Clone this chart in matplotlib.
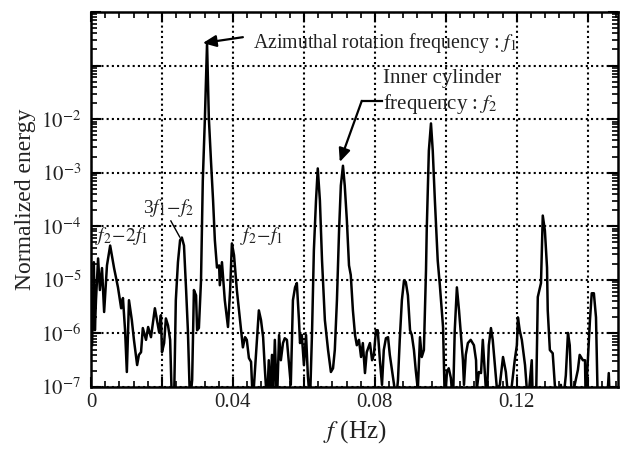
import matplotlib
matplotlib.use("Agg")
import matplotlib.pyplot as plt
import numpy as np
from matplotlib.ticker import MultipleLocator, LogLocator, NullFormatter

plt.rcParams['font.family'] = ['Liberation Serif', 'DejaVu Serif']
plt.rcParams['mathtext.fontset'] = 'stix'

# spectrum: frequency (Hz) and log10 of normalized energy
freq = [
    0.0003, 0.0006, 0.0008, 0.0011, 0.0014, 0.0020, 0.0025, 0.0031, 0.0037, 0.0045,
    0.0054, 0.0065, 0.0076, 0.0085, 0.0090, 0.0096, 0.0101, 0.0107, 0.0115, 0.0121,
    0.0130, 0.0135, 0.0141, 0.0146, 0.0155, 0.0161, 0.0169, 0.0180, 0.0186, 0.0192,
    0.0197, 0.0200, 0.0206, 0.0211, 0.0217, 0.0223, 0.0228, 0.0234, 0.0239, 0.0245,
    0.0251, 0.0256, 0.0262, 0.0268, 0.0273, 0.0279, 0.0285, 0.0290, 0.0296, 0.0299,
    0.0304, 0.0310, 0.0315, 0.0321, 0.0327, 0.0332, 0.0338, 0.0344, 0.0349, 0.0355,
    0.0361, 0.0363, 0.0369, 0.0377, 0.0386, 0.0392, 0.0397, 0.0403, 0.0411, 0.0420,
    0.0428, 0.0434, 0.0439, 0.0445, 0.0451, 0.0456, 0.0462, 0.0468, 0.0473, 0.0479,
    0.0485, 0.0490, 0.0496, 0.0501, 0.0504, 0.0510, 0.0513, 0.0518, 0.0524, 0.0530,
    0.0535, 0.0541, 0.0546, 0.0552, 0.0558, 0.0563, 0.0569, 0.0575, 0.0580, 0.0586,
    0.0589, 0.0594, 0.0600, 0.0606, 0.0611, 0.0617, 0.0623, 0.0628, 0.0634, 0.0639,
    0.0645, 0.0651, 0.0659, 0.0668, 0.0676, 0.0682, 0.0687, 0.0693, 0.0699, 0.0704,
    0.0710, 0.0715, 0.0721, 0.0727, 0.0732, 0.0738, 0.0744, 0.0749, 0.0755, 0.0761,
    0.0766, 0.0772, 0.0777, 0.0786, 0.0792, 0.0797, 0.0803, 0.0808, 0.0814, 0.0820,
    0.0825, 0.0831, 0.0837, 0.0842, 0.0848, 0.0854, 0.0859, 0.0865, 0.0870, 0.0876,
    0.0882, 0.0887, 0.0893, 0.0899, 0.0904, 0.0910, 0.0915, 0.0921, 0.0927, 0.0932,
    0.0938, 0.0944, 0.0946, 0.0952, 0.0958, 0.0963, 0.0969, 0.0977, 0.0983, 0.0992,
    0.0997, 0.1003, 0.1008, 0.1014, 0.1020, 0.1025, 0.1031, 0.1037, 0.1042, 0.1048,
    0.1051, 0.1056, 0.1062, 0.1070, 0.1079, 0.1085, 0.1087, 0.1093, 0.1099, 0.1104,
    0.1110, 0.1115, 0.1121, 0.1127, 0.1132, 0.1138, 0.1144, 0.1152, 0.1161, 0.1169,
    0.1177, 0.1186, 0.1194, 0.1200, 0.1203, 0.1208, 0.1214, 0.1223, 0.1231, 0.1237,
    0.1242, 0.1245, 0.1254, 0.1259, 0.1268, 0.1273, 0.1279, 0.1285, 0.1287, 0.1293,
    0.1301, 0.1307, 0.1315, 0.1324, 0.1330, 0.1338, 0.1344, 0.1349, 0.1355, 0.1363,
    0.1372, 0.1377, 0.1386, 0.1392, 0.1394, 0.1400, 0.1406, 0.1411, 0.1417, 0.1423,
    0.1428, 0.1442, 0.1454, 0.1459, 0.1462, 0.1468,
]
log_energy = [
    -6.22, -5.38, -4.67, -5.94, -5.38, -4.60, -5.19, -4.78, -5.60, -4.73,
    -4.36, -4.78, -5.14, -5.53, -5.34, -5.94, -6.72, -5.38, -5.75, -6.12,
    -6.59, -6.40, -6.35, -5.90, -6.12, -5.88, -6.07, -5.53, -5.75, -5.98,
    -5.66, -6.35, -6.18, -5.72, -5.85, -6.12, -7.30, -7.30, -5.38, -4.67,
    -4.26, -4.21, -4.36, -5.19, -5.94, -7.30, -6.87, -5.19, -5.29, -5.94,
    -5.90, -5.01, -3.15, -1.97, -0.58, -1.97, -2.77, -3.52, -4.26, -4.77,
    -4.73, -5.10, -4.67, -5.38, -5.88, -5.19, -4.32, -4.54, -5.19, -5.75,
    -6.26, -6.07, -6.12, -6.46, -6.53, -7.30, -6.68, -6.03, -5.57, -5.75,
    -6.07, -6.68, -7.30, -6.50, -7.30, -6.40, -7.30, -6.12, -7.30, -6.03,
    -6.50, -6.18, -6.09, -6.12, -6.59, -6.96, -5.38, -5.14, -5.06, -5.75,
    -6.18, -6.03, -6.59, -6.03, -6.78, -7.30, -5.94, -4.45, -3.52, -2.92,
    -3.52, -4.64, -5.75, -6.31, -6.72, -6.65, -6.31, -5.38, -4.08, -3.24,
    -2.87, -3.24, -3.89, -4.73, -4.91, -5.57, -6.03, -6.22, -6.12, -6.44,
    -6.18, -6.74, -6.35, -6.18, -6.50, -6.40, -5.94, -5.94, -6.50, -6.96,
    -6.31, -6.09, -6.07, -6.40, -6.68, -6.96, -7.30, -6.87, -6.12, -5.38,
    -5.01, -5.04, -5.29, -5.94, -6.03, -6.31, -6.68, -7.05, -6.07, -6.44,
    -6.31, -4.82, -4.08, -2.59, -2.08, -2.59, -3.52, -4.64, -5.10, -5.88,
    -7.30, -6.72, -6.65, -6.83, -7.30, -5.94, -5.14, -5.57, -5.99, -6.50,
    -6.96, -6.40, -6.18, -6.12, -6.22, -6.50, -7.05, -6.72, -6.74, -6.12,
    -6.78, -7.30, -6.22, -5.90, -6.12, -6.59, -7.05, -6.96, -6.44, -6.72,
    -7.30, -6.96, -6.50, -6.22, -5.70, -5.94, -6.12, -6.59, -7.30, -6.87,
    -6.50, -7.30, -7.30, -5.32, -5.06, -3.80, -4.08, -4.77, -5.57, -6.31,
    -6.37, -6.96, -7.30, -6.96, -7.30, -6.78, -5.99, -6.22, -7.30, -6.96,
    -6.68, -6.40, -6.50, -6.50, -7.30, -6.50, -5.75, -5.25, -5.25, -5.70,
    -7.30, -7.30, -7.30, -6.74, -7.30, -7.30,
]
energy = 10.0 ** np.array(log_energy)

x_ticks = [0.0, 0.02, 0.04, 0.06, 0.08, 0.10, 0.12, 0.14]
x_tick_labels = ['0', '', '0.04', '', '0.08', '', '0.12', '']
y_ticks = [1e-7, 1e-6, 1e-5, 1e-4, 1e-3, 1e-2, 1e-1, 1e0]
y_tick_labels = [r'$10^{-7}$', r'$10^{-6}$', r'$10^{-5}$', r'$10^{-4}$',
                 r'$10^{-3}$', r'$10^{-2}$', '', '']

fig = plt.figure(figsize=(6.21, 4.54), dpi=100)
ax = fig.add_axes([91 / 621, 1 - 387 / 454, 527 / 621, 375 / 454])

ax.plot(freq, energy, color='black', lw=1.8)

ax.set_yscale('log')
ax.set_xlim(0, 0.1485)
ax.set_ylim(1e-7, 1)

ax.set_xticks(x_ticks)
ax.set_xticklabels(x_tick_labels)
ax.xaxis.set_minor_locator(MultipleLocator(0.004))
ax.set_yticks(y_ticks)
ax.set_yticklabels(y_tick_labels)
ax.yaxis.set_minor_locator(LogLocator(base=10, subs=np.arange(2, 10)))
ax.yaxis.set_minor_formatter(NullFormatter())

ax.tick_params(which='both', direction='in', top=True, right=True,
               labelsize=15, colors='black', labelcolor='#222222')
ax.tick_params(which='major', length=7, width=1.5)
ax.tick_params(axis='x', which='major', pad=4)
ax.tick_params(axis='y', which='major', pad=7)
ax.tick_params(which='minor', length=4, width=1.2)
for s in ax.spines.values():
    s.set_linewidth(1.8)

ax.grid(which='major', color='black', lw=1.5, ls=(0, (1, 1.5)))

ax.set_xlabel(r'$f$ (Hz)', fontsize=18, color='#222222', labelpad=5)
ax.set_ylabel('Normalized energy', fontsize=17, color='#222222', labelpad=4)

# peak labels
arrow = dict(arrowstyle='-|>,head_length=0.8,head_width=0.35', color='black',
             lw=1.6, shrinkA=0, shrinkB=0)
ax.annotate('', xy=(0.0315, 10 ** -0.58), xytext=(0.0428, 10 ** -0.47),
            arrowprops=arrow)
ax.text(0.0456, 10 ** -0.58, 'Azimuthal rotation frequency : $f_1$',
        fontsize=14.3, va='center', ha='left', color='#222222')

ax.text(0.0823, 10 ** -1.25, 'Inner cylinder', fontsize=15,
        va='center', ha='left', color='#222222')
ax.text(0.0823, 10 ** -1.72, 'frequency : $f_2$', fontsize=15,
        va='center', ha='left', color='#222222')
ax.plot([0.0763, 0.0821], [10 ** -1.66, 10 ** -1.66], color='black', lw=1.6)
ax.annotate('', xy=(0.0701, 10 ** -2.80), xytext=(0.0763, 10 ** -1.66),
            arrowprops=arrow)

ax.text(0.0146, 10 ** -3.65, r'3$f_1\!-\!f_2$', fontsize=14,
        va='center', ha='left', color='#222222')
ax.plot([0.0225, 0.0250], [10 ** -3.90, 10 ** -4.20], color='black', lw=1.0)
ax.text(0.0012, 10 ** -4.18, r'$f_2\!-\!2f_1$', fontsize=14,
        va='center', ha='left', color='#222222')
ax.text(0.0420, 10 ** -4.18, r'$f_2\!-\!f_1$', fontsize=14,
        va='center', ha='left', color='#222222')

fig.savefig('out.png', dpi=100)
